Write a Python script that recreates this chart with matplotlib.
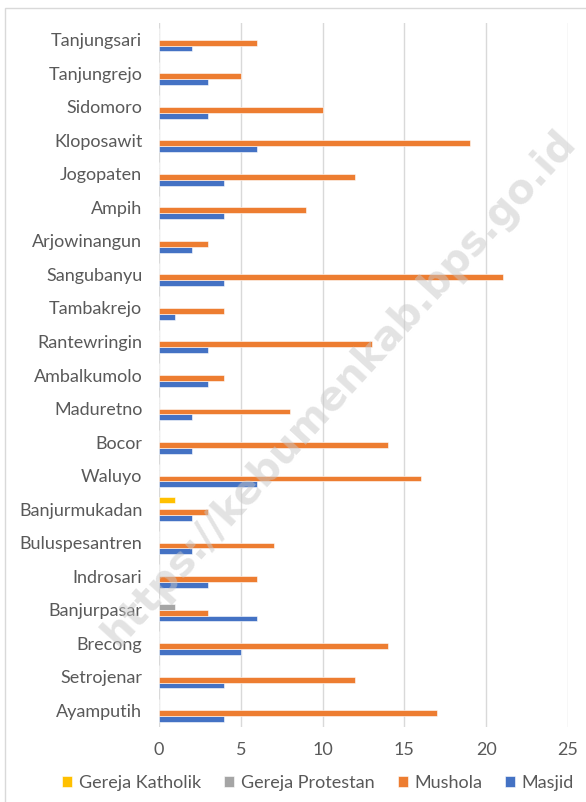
import matplotlib
matplotlib.use("Agg")
import matplotlib.pyplot as plt
import numpy as np
from matplotlib.patches import Rectangle

categories = ["Ayamputih", "Setrojenar", "Brecong", "Banjurpasar", "Indrosari",
              "Buluspesantren", "Banjurmukadan", "Waluyo", "Bocor", "Maduretno",
              "Ambalkumolo", "Rantewringin", "Tambakrejo", "Sangubanyu", "Arjowinangun",
              "Ampih", "Jogopaten", "Kloposawit", "Sidomoro", "Tanjungrejo", "Tanjungsari"]
masjid = [4, 4, 5, 6, 3, 2, 2, 6, 2, 2, 3, 3, 1, 4, 2, 4, 4, 6, 3, 3, 2]
mushola = [17, 12, 14, 3, 6, 7, 3, 16, 14, 8, 4, 13, 4, 21, 3, 9, 12, 19, 10, 5, 6]
protestan = [0, 0, 0, 1, 0, 0, 0, 0, 0, 0, 0, 0, 0, 0, 0, 0, 0, 0, 0, 0, 0]
katholik = [0, 0, 0, 0, 0, 0, 1, 0, 0, 0, 0, 0, 0, 0, 0, 0, 0, 0, 0, 0, 0]
series_names = ["Gereja Katholik", "Gereja Protestan", "Mushola", "Masjid"]
xticks = [0, 5, 10, 15, 20, 25]

colors = {"Gereja Katholik": "#FFC000", "Gereja Protestan": "#A5A5A5",
          "Mushola": "#ED7D31", "Masjid": "#4472C4"}

plt.rcParams['font.family'] = ['Lato', 'DejaVu Sans']
W, H = 586, 802
fig = plt.figure(figsize=(W / 100, H / 100), dpi=100)

# chart border
fig.patches.append(Rectangle((5 / W, -0.1), 1.2, 1 - 8 / H + 0.1, transform=fig.transFigure,
                             facecolor="none", edgecolor="#d9d9d9", lw=1.0, zorder=0))

left, right = 159 / W, 568 / W
top, bottom = 1 - 23 / H, 1 - 727 / H
ax = fig.add_axes([left, bottom, right - left, top - bottom])

y = np.arange(len(categories))
h = 0.175
data = {"Masjid": masjid, "Mushola": mushola, "Gereja Protestan": protestan, "Gereja Katholik": katholik}
offsets = {"Masjid": -1.5 * h, "Mushola": -0.5 * h, "Gereja Protestan": 0.5 * h, "Gereja Katholik": 1.5 * h}
handles = {}
for name in ["Masjid", "Mushola", "Gereja Protestan", "Gereja Katholik"]:
    handles[name] = ax.barh(y + offsets[name], data[name], height=h, color=colors[name],
                            edgecolor="white", linewidth=0.4, zorder=3, label=name)

ax.set_xlim(0, 25)
ax.set_ylim(-0.5, len(categories) - 0.5)
ax.set_xticks(xticks)
ax.set_xticklabels([str(t) for t in xticks])
ax.set_yticks(y)
ax.set_yticklabels(categories)
ax.grid(axis="x", color="#d9d9d9", lw=1.0, zorder=0)
for s in ax.spines.values():
    s.set_visible(False)
ax.tick_params(axis="both", length=0, labelsize=13, colors="#595959")
ax.tick_params(axis="x", pad=11)
ax.tick_params(axis="y", pad=12)

leg = fig.legend([handles[n] for n in series_names], series_names, loc="center",
                 bbox_to_anchor=(0.543, 1 - 783 / H), ncol=4, frameon=False,
                 fontsize=13, handlelength=0.55, handleheight=0.55, handletextpad=0.35,
                 columnspacing=1.3)
for t in leg.get_texts():
    t.set_color("#595959")

# watermark
fig.text(340 / W, 1 - 388 / H, "https://kebumenkab.bps.go.id", rotation=47.7,
         fontsize=29, fontweight="bold", color="#c8c8c8", alpha=0.5,
         ha="center", va="center", family=["DejaVu Sans"], zorder=10)

fig.savefig("out.png", dpi=100)
